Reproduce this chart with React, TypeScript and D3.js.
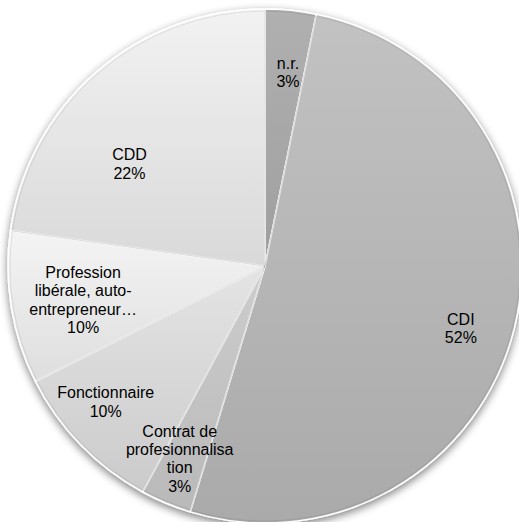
import { useEffect, useRef } from "react";
import * as d3 from "d3";

// slices, clockwise from 12 o'clock
const categories = ["n.r.", "CDI", "Contrat de profesionnalisation", "Fonctionnaire", "Profession libérale, auto-entrepreneur…", "CDD"];
const values = [3.2, 51.5, 3.2, 9.7, 9.6, 22.8];
const percentLabels = ["3%", "52%", "3%", "10%", "10%", "22%"];
const labelLines = [
  ["n.r."],
  ["CDI"],
  ["Contrat de", "profesionnalisa", "tion"],
  ["Fonctionnaire"],
  ["Profession", "libérale, auto-", "entrepreneur…"],
  ["CDD"],
];
// [top colour, bottom colour]
const fills = [
  ["#b0b0b0", "#9f9f9f"],
  ["#c2c2c2", "#aaaaaa"],
  ["#cdcdcd", "#b9b9b9"],
  ["#e4e4e4", "#cbcbcb"],
  ["#f4f4f4", "#dedede"],
  ["#f2f2f2", "#d9d9d9"],
];
// label placement (angle shift deg, radius fraction)
const labelPos = [
  [1, 0.76],
  [3.5, 0.8],
  [1.2, 0.82],
  [3.6, 0.815],
  [-1.2, 0.72],
  [-12, 0.66],
];

const App = () => {
  const svgRef = useRef<SVGSVGElement>(null);

  useEffect(() => {
    const svg = d3.select(svgRef.current);
    svg.selectAll("*").remove();
    const cx = 265, cy = 266, r = 257;

    const defs = svg.append("defs");
    fills.forEach((f, i) => {
      const g = defs.append("linearGradient").attr("id", "g" + i)
        .attr("x1", 0).attr("y1", 0).attr("x2", 0).attr("y2", 1);
      g.append("stop").attr("offset", "0%").attr("stop-color", f[0]);
      g.append("stop").attr("offset", "100%").attr("stop-color", f[1]);
    });
    const sh = defs.append("filter").attr("id", "shadow")
      .attr("x", "-10%").attr("y", "-10%").attr("width", "120%").attr("height", "120%");
    sh.append("feGaussianBlur").attr("in", "SourceAlpha").attr("stdDeviation", 4);
    sh.append("feOffset").attr("dx", 0).attr("dy", 3).attr("result", "b");
    sh.append("feComponentTransfer").append("feFuncA").attr("type", "linear").attr("slope", 0.5);
    const m = sh.append("feMerge");
    m.append("feMergeNode");
    m.append("feMergeNode").attr("in", "SourceGraphic");

    const pie = d3.pie<number>().sort(null).value((d) => d);
    const arcs = pie(values);
    const arc = d3.arc<d3.PieArcDatum<number>>().innerRadius(0).outerRadius(r);

    const g = svg.append("g").attr("transform", `translate(${cx},${cy})`);
    g.append("g").attr("filter", "url(#shadow)")
      .selectAll("path")
      .data(arcs)
      .enter()
      .append("path")
      .attr("d", arc)
      .attr("fill", (_d, i) => `url(#g${i})`)
      .attr("stroke", "#ffffff")
      .attr("stroke-width", 1.5)
      .attr("stroke-linejoin", "round");

    // slight darker inner edge for bevel look
    g.append("g")
      .selectAll("path")
      .data(arcs)
      .enter()
      .append("path")
      .attr("d", d3.arc<d3.PieArcDatum<number>>().innerRadius(0).outerRadius(r - 2))
      .attr("fill", "none")
      .attr("stroke", "#000")
      .attr("stroke-opacity", 0.08)
      .attr("stroke-width", 1);

    const lh = 18.3;
    arcs.forEach((d, i) => {
      const a = (d.startAngle + d.endAngle) / 2 + (labelPos[i][0] * Math.PI) / 180;
      const rr = r * labelPos[i][1];
      const x = Math.sin(a) * rr;
      const y = -Math.cos(a) * rr;
      const lines = [...labelLines[i], percentLabels[i]];
      const y0 = y - ((lines.length - 1) * lh) / 2;
      const t = g.append("text")
        .attr("text-anchor", "middle")
        .style("font-family", "'Liberation Sans', Arial, sans-serif")
        .style("font-size", "16px")
        .attr("fill", "#000");
      lines.forEach((l, j) => {
        t.append("tspan").attr("x", x).attr("y", y0 + j * lh).attr("dy", "0.35em").text(l);
      });
    });
  }, []);

  return (
    <svg
      ref={svgRef}
      width={519}
      height={522}
      style={{ position: "absolute", left: 0, top: 0, background: "#fff" }}
    ></svg>
  );
};

export default App;
